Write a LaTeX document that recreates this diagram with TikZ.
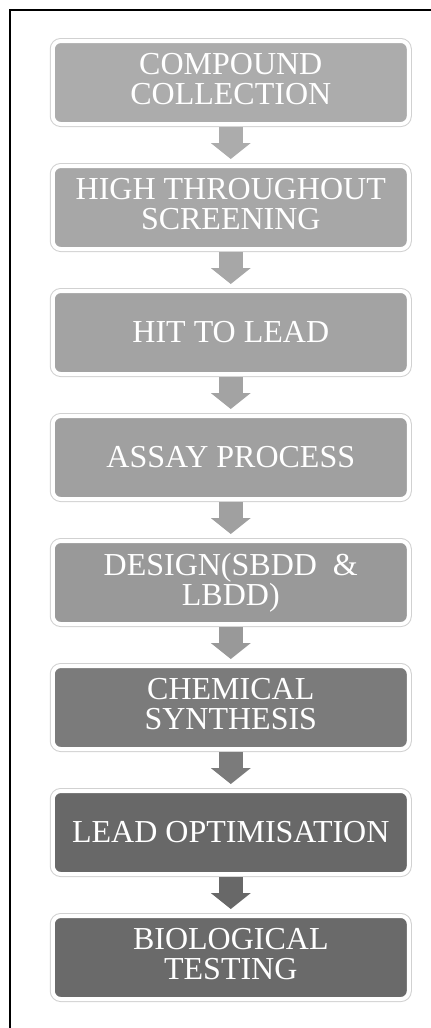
\documentclass[tikz,border=0pt]{standalone}
\usepackage{fontspec}
\setmainfont{Liberation Serif}
\usetikzlibrary{positioning}
\usetikzlibrary{arrows.meta}

\definecolor{shadeA}{HTML}{ACACAC}
\definecolor{shadeB}{HTML}{A7A7A7}
\definecolor{shadeC}{HTML}{A3A3A3}
\definecolor{shadeD}{HTML}{A0A0A0}
\definecolor{shadeE}{HTML}{999999}
\definecolor{shadeF}{HTML}{7B7B7B}
\definecolor{shadeG}{HTML}{686868}
\definecolor{shadeH}{HTML}{6A6A6A}

\begin{document}
\begin{tikzpicture}[x=1pt, y=-1pt,
    stage/.style={rectangle, rounded corners=8pt, minimum width=356pt, minimum height=83pt,
        outer sep=0pt, inner sep=0pt, draw=white, line width=4pt,
        preaction={draw=black!18, line width=6pt},
        text=white, align=center, font=\fontsize{32}{30}\selectfont},
    twoline/.style={text depth=7pt},
    flow/.style={line width=24pt, -{Triangle[width=40pt, length=16pt, line width=0pt]},
        shorten <=3pt, shorten >=7pt}]

    % page size
    \useasboundingbox (0,0) rectangle (431,1028);

    % frame
    \draw[line width=2pt] (10,1028) -- (10,10) -- (431,10);

    % stages
    \node[stage, twoline, fill=shadeA] (compound) at (230.8,82.5) {COMPOUND\\COLLECTION};
    \node[stage, twoline, fill=shadeB, below=42pt of compound] (screening) {HIGH THROUGHOUT\\SCREENING};
    \node[stage, fill=shadeC, below=42pt of screening] (hitlead) {HIT TO LEAD};
    \node[stage, fill=shadeD, below=42pt of hitlead] (assay) {ASSAY PROCESS};
    \node[stage, twoline, fill=shadeE, below=42pt of assay] (design) {DESIGN(SBDD\ \ \&\\LBDD)};
    \node[stage, twoline, fill=shadeF, below=42pt of design] (synthesis) {CHEMICAL\\SYNTHESIS};
    \node[stage, fill=shadeG, below=42pt of synthesis] (optimisation) {LEAD OPTIMISATION};
    \node[stage, twoline, fill=shadeH, below=42pt of optimisation] (testing) {BIOLOGICAL\\TESTING};

    % arrows between stages
    \draw[flow, shadeA] (compound) -- (screening);
    \draw[flow, shadeB] (screening) -- (hitlead);
    \draw[flow, shadeC] (hitlead) -- (assay);
    \draw[flow, shadeD] (assay) -- (design);
    \draw[flow, shadeE] (design) -- (synthesis);
    \draw[flow, shadeF] (synthesis) -- (optimisation);
    \draw[flow, shadeG] (optimisation) -- (testing);

\end{tikzpicture}
\end{document}
